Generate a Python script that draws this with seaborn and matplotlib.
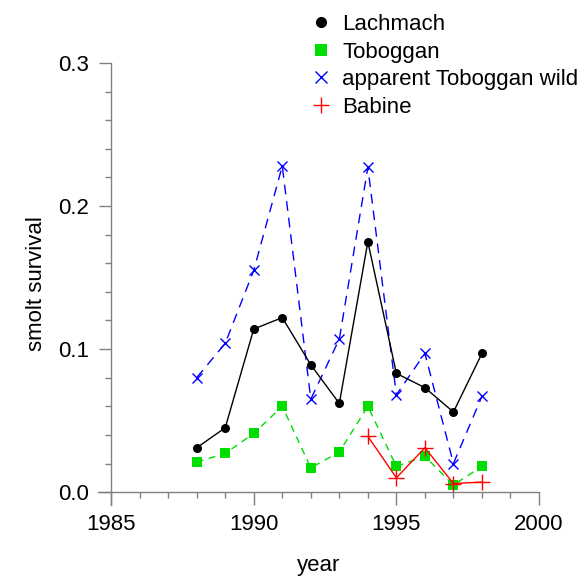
import matplotlib
matplotlib.use("Agg")
import matplotlib.pyplot as plt
from matplotlib.lines import Line2D
from matplotlib.ticker import MultipleLocator
import seaborn as sns
import pandas as pd

years = [1988, 1989, 1990, 1991, 1992, 1993, 1994, 1995, 1996, 1997, 1998]
lachmach = [0.031, 0.045, 0.114, 0.122, 0.089, 0.062, 0.175, 0.083, 0.073, 0.056, 0.097]
toboggan = [0.021, 0.027, 0.041, 0.060, 0.017, 0.028, 0.060, 0.018, 0.025, 0.005, 0.018]
tob_wild = [0.080, 0.104, 0.155, 0.228, 0.065, 0.107, 0.227, 0.068, 0.097, 0.020, 0.067]
babine_years = [1994, 1995, 1996, 1997, 1998]
babine = [0.039, 0.010, 0.031, 0.006, 0.007]

labels = ["Lachmach", "Toboggan", "apparent Toboggan wild", "Babine"]
x_ticks = [1985, 1990, 1995, 2000]
y_ticks = [0.0, 0.1, 0.2, 0.3]

sns.set_style("ticks")
plt.rcParams["font.family"] = ["Liberation Sans", "DejaVu Sans"]
plt.rcParams["text.color"] = "black"
plt.rcParams["axes.labelcolor"] = "black"
plt.rcParams["xtick.labelcolor"] = "black"
plt.rcParams["ytick.labelcolor"] = "black"

fig = plt.figure(figsize=(5.85, 5.77), dpi=100)
ax = fig.add_axes([0.1675, 0.1248, 0.9214 - 0.1675, 0.8908 - 0.1248])

green = "#00dd00"
blue = "#0000ff"
red = "#ff0000"
sns.lineplot(x=years, y=tob_wild, ax=ax, color=blue, linewidth=1, linestyle=(0, (7, 5)),
             marker="x", markersize=7.5, markeredgewidth=1, markeredgecolor=blue)
sns.lineplot(x=years, y=toboggan, ax=ax, color=green, linewidth=1, linestyle=(0, (5, 4)),
             marker="s", markersize=7.5, markeredgewidth=0)
sns.lineplot(x=years, y=lachmach, ax=ax, color="black", linewidth=1,
             marker="o", markersize=6.5, markeredgewidth=0)
sns.lineplot(x=babine_years, y=babine, ax=ax, color=red, linewidth=1,
             marker="+", markersize=11, markeredgewidth=1, markeredgecolor=red)

ax.set_xlim(1984.54, 2000)
ax.set_ylim(-0.009, 0.3)
ax.spines["left"].set_position(("data", 1985))
ax.spines["bottom"].set_position(("data", 0))
ax.spines["right"].set_visible(False)
ax.spines["top"].set_visible(False)
for s in ("left", "bottom"):
    ax.spines[s].set_color("#808080")
    ax.spines[s].set_linewidth(1)

ax.set_xticks(x_ticks)
ax.set_xticklabels([str(v) for v in x_ticks])
ax.set_yticks(y_ticks)
ax.set_yticklabels([f"{v:.1f}" for v in y_ticks])
ax.xaxis.set_minor_locator(MultipleLocator(1))
ax.yaxis.set_minor_locator(MultipleLocator(0.02))
ax.tick_params(which="major", direction="out", length=9, width=1, color="#808080",
               labelsize=16, pad=7, labelcolor="black")
ax.tick_params(which="minor", direction="out", length=4.5, width=1, color="#808080")
ax.set_xlabel("year", fontsize=16, labelpad=14, color="black")
ax.set_ylabel("smolt survival", fontsize=16, labelpad=8, color="black")

handles = [
    Line2D([], [], color="black", marker="o", linestyle="none", markersize=7),
    Line2D([], [], color=green, marker="s", linestyle="none", markersize=8, markeredgewidth=0),
    Line2D([], [], color=blue, marker="x", linestyle="none", markersize=8),
    Line2D([], [], color=red, marker="+", linestyle="none", markersize=11),
]
fig.legend(handles, labels, loc="upper left", bbox_to_anchor=(301 / 585, 1 - 5 / 577),
           frameon=False, fontsize=16, handlelength=1.0, handletextpad=0.45,
           labelspacing=0.3, borderaxespad=0, labelcolor="black")

fig.savefig("out.png", dpi=100, facecolor="white")
